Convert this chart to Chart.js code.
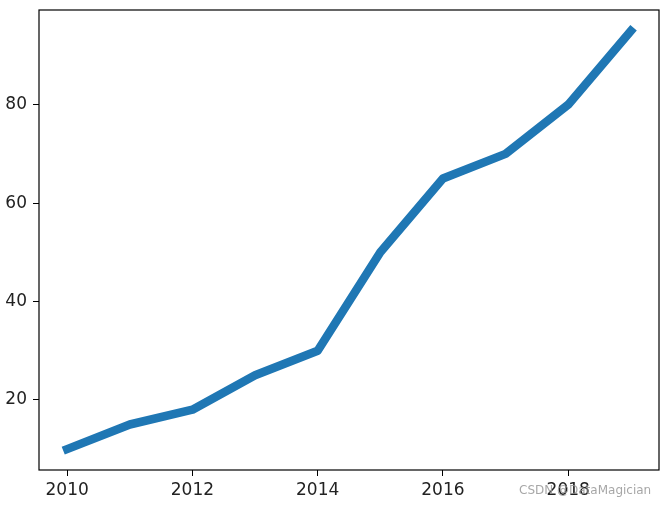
<!DOCTYPE html>
<html>
<head>
<meta charset="utf-8">
<script src="https://cdn.jsdelivr.net/npm/chart.js@4"></script>
<style>
  html, body { margin: 0; padding: 0; background: #fff; }
  #wrap { width: 666px; height: 505px; }
</style>
</head>
<body>
<div id="wrap"><canvas id="myChart"></canvas></div>
<script>
// data
const years = [2010, 2011, 2012, 2013, 2014, 2015, 2016, 2017, 2018, 2019];
const values = [10, 15, 18, 25, 30, 50, 65, 70, 80, 95];
const xTicks = [2010, 2012, 2014, 2016, 2018];
const yTicks = [20, 40, 60, 80];
const watermark = 'CSDN @DataMagician';

const tickFont = { family: 'DejaVu Sans', size: 17 };

// draws the full axes box and the watermark
const frame = {
  id: 'frame',
  afterDraw(chart) {
    const { ctx, chartArea: a } = chart;
    ctx.save();
    ctx.strokeStyle = '#000';
    ctx.lineWidth = 1.2;
    ctx.strokeRect(a.left, a.top, a.right - a.left, a.bottom - a.top);
    ctx.font = '12px "DejaVu Sans"';
    ctx.fillStyle = 'rgba(150,150,150,0.85)';
    ctx.textBaseline = 'middle';
    ctx.fillText(watermark, 519, 491);
    ctx.restore();
  }
};

const chart = new Chart(document.getElementById('myChart'), {
  type: 'line',
  data: {
    datasets: [{
      data: years.map((y, i) => ({ x: y, y: values[i] })),
      borderColor: '#1f77b4',
      borderWidth: 8.5,
      borderCapStyle: 'square',
      borderJoinStyle: 'round',
      pointRadius: 0,
      tension: 0,
      fill: false
    }]
  },
  options: {
    responsive: true,
    maintainAspectRatio: false,
    animation: false,
    layout: { padding: { top: 10, right: 7, left: 0, bottom: 0 } },
    plugins: { legend: { display: false }, tooltip: { enabled: false } },
    scales: {
      x: {
        type: 'linear',
        min: 2009.55,
        max: 2019.45,
        afterBuildTicks: s => { s.ticks = xTicks.map(v => ({ value: v })); },
        afterFit: s => { s.height = 35; s.paddingLeft = 0; s.paddingRight = 0; },
        grid: { drawOnChartArea: false, drawTicks: true, tickLength: 6, color: '#000' },
        border: { display: false },
        ticks: { font: tickFont, color: '#222', padding: 4, maxRotation: 0, callback: v => String(v) }
      },
      y: {
        min: 5.75,
        max: 99.25,
        afterBuildTicks: s => { s.ticks = yTicks.map(v => ({ value: v })); },
        afterFit: s => { s.width = 39; s.paddingTop = 0; s.paddingBottom = 0; },
        grid: { drawOnChartArea: false, drawTicks: true, tickLength: 6, color: '#000' },
        border: { display: false },
        ticks: { font: tickFont, color: '#222', padding: 6 }
      }
    }
  },
  plugins: [frame]
});
</script>
</body>
</html>
